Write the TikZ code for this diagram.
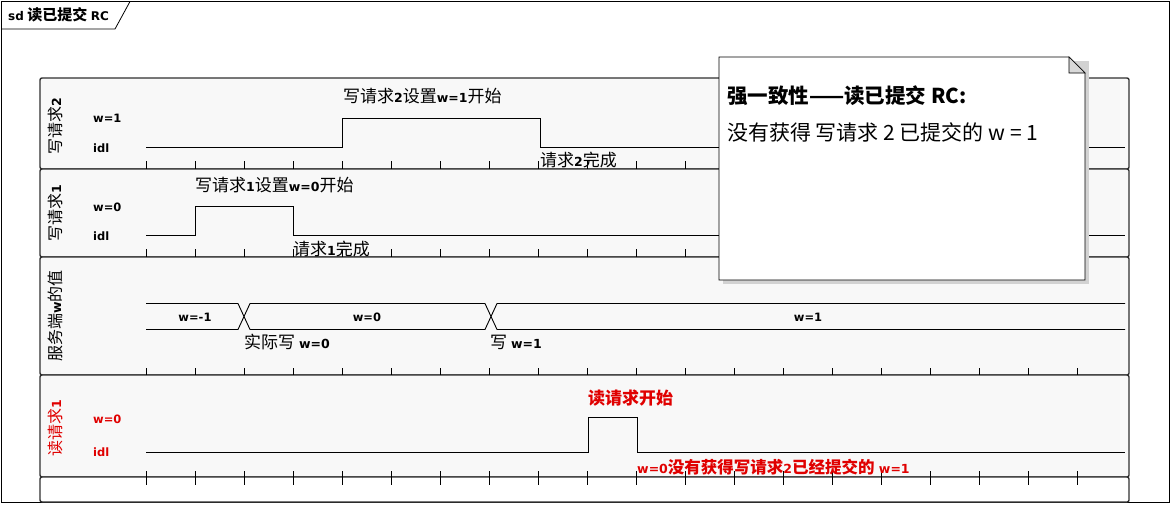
\documentclass[tikz,border=0pt]{standalone}
\usepackage{fontspec}
\setmainfont{Noto Sans CJK SC}
\newfontfamily\lat{DejaVu Sans}
\definecolor{lanefill}{HTML}{F8F8F8}
\definecolor{laneline}{HTML}{303030}
\definecolor{myred}{HTML}{E00000}
\newcommand{\sm}[1]{{\lat\bfseries\fontsize{12.5}{12.5}\selectfont #1}}
\begin{document}
\begin{tikzpicture}[x=1pt,y=-1pt,
  lane/.style={draw=laneline,line width=1.4pt,fill=lanefill,rounded corners=2pt},
  sig/.style={draw=black,line width=0.9pt},
  tick/.style={draw=black,line width=0.8pt},
  txt/.style={inner sep=0pt,font=\fontsize{17}{17}\selectfont},
  lbl/.style={inner sep=0pt,anchor=west,font=\lat\bfseries\fontsize{11.5}{11.5}\selectfont},
  lanelbl/.style={inner sep=0pt,rotate=90,font=\fontsize{16}{16}\selectfont}]
\useasboundingbox (0,0) rectangle (1171,504);
% outer frame
\draw[line width=0.8pt,fill=white] (1.5,1.5) rectangle (1169.5,502.5);
\draw[line width=0.8pt] (1.5,29) -- (115,29) -- (130,1.5);
\node[inner sep=0pt,anchor=west,font=\fontsize{15}{15}\selectfont\bfseries] (title) at (8,15) {{\lat\fontsize{12}{12}\selectfont sd} 读已提交 {\lat\fontsize{12}{12}\selectfont RC}};
% lanes
\draw[lane] (40,78) rectangle (1129,169);
\draw[lane] (40,169) rectangle (1129,257);
\draw[lane] (40,257) rectangle (1129,375);
\draw[lane] (40,375) rectangle (1129,477);
\draw[lane,fill=white] (40,477) rectangle (1129,502);
% ticks
\foreach \k in {0,...,19}{
  \pgfmathsetmacro{\xx}{146.7+49*\k}
  \draw[tick] (\xx,161) -- (\xx,169);
  \draw[tick] (\xx,249) -- (\xx,257);
  \draw[tick] (\xx,368) -- (\xx,375);
  \draw[tick] (\xx,471) -- (\xx,485);
}
% lane labels
\node[lanelbl] (l1) at (55,126) {写请求\sm{2}};
\node[lanelbl] (l2) at (55,213) {写请求\sm{1}};
\node[lanelbl] (l3) at (55,316) {服务端\sm{w}的值};
\node[lanelbl,text=myred] (l4) at (55,428) {读请求\sm{1}};
% state labels
\node[lbl] (s1a) at (93,118) {w=1};
\node[lbl] (s1b) at (93,148) {idl};
\node[lbl] (s2a) at (93,207) {w=0};
\node[lbl] (s2b) at (93,236) {idl};
\node[lbl,text=myred] (s4a) at (93,419) {w=0};
\node[lbl,text=myred] (s4b) at (93,452) {idl};
% lane 1 signal
\draw[sig] (146,147) -- (342,147) -- (342,118) -- (540,118) -- (540,147) -- (1125,147);
\node[txt,anchor=west] (t1) at (343,96) {写请求\sm{2}设置\sm{w=1}开始};
\node[txt,anchor=west] (t2) at (540,160) {请求\sm{2}完成};
% lane 2 signal
\draw[sig] (146,235.5) -- (195.5,235.5) -- (195.5,206) -- (293.5,206) -- (293.5,235.5) -- (1125,235.5);
\node[txt,anchor=west] (t3) at (195,185) {写请求\sm{1}设置\sm{w=0}开始};
\node[txt,anchor=west] (t4) at (293,249) {请求\sm{1}完成};
% lane 3 bus
\draw[sig] (146,303.5) -- (238,303.5) -- (250,329.5) -- (485,329.5) -- (497,303.5) -- (1125,303.5);
\draw[sig] (146,329.5) -- (238,329.5) -- (250,303.5) -- (485,303.5) -- (497,329.5) -- (1125,329.5);
\node[lbl,anchor=center] (b1) at (195,317) {w=-1};
\node[lbl,anchor=center] (b2) at (367,317) {w=0};
\node[lbl,anchor=center] (b3) at (808,317) {w=1};
\node[txt,anchor=west] (t5) at (244,342) {实际写 \sm{w=0}};
\node[txt,anchor=west] (t6) at (490,342) {写 \sm{w=1}};
% lane 4 signal
\draw[sig] (146,452.5) -- (588.5,452.5) -- (588.5,417.5) -- (637.5,417.5) -- (637.5,452.5) -- (1125,452.5);
\node[txt,anchor=west,text=myred,font=\fontsize{17}{17}\selectfont\bfseries] (t7) at (588,398) {读请求开始};
\node[txt,anchor=west,text=myred,font=\fontsize{16.5}{16.5}\selectfont\bfseries] (t8) at (637,467) {\sm{w=0}没有获得写请求\sm{2}已经提交的\sm{\ w=1}};
% note
\fill[gray!35] (723,61) -- (1089,61) -- (1089,284) -- (723,284) -- cycle;
\draw[line width=0.8pt,fill=white] (719,57) -- (1069,57) -- (1085,73) -- (1085,280) -- (719,280) -- cycle;
\draw[line width=0.6pt,fill=gray!30] (1069,57) -- (1069,73) -- (1085,73) -- cycle;
\node[inner sep=0pt,anchor=west,font=\fontsize{20.5}{20.5}\selectfont\bfseries] (n1) at (727,96) {强一致性——读已提交 RC:};
\node[inner sep=0pt,anchor=west,font=\fontsize{21}{21}\selectfont] (n2) at (727,132) {没有获得 写请求 2 已提交的 w = 1};
\end{tikzpicture}
\end{document}
